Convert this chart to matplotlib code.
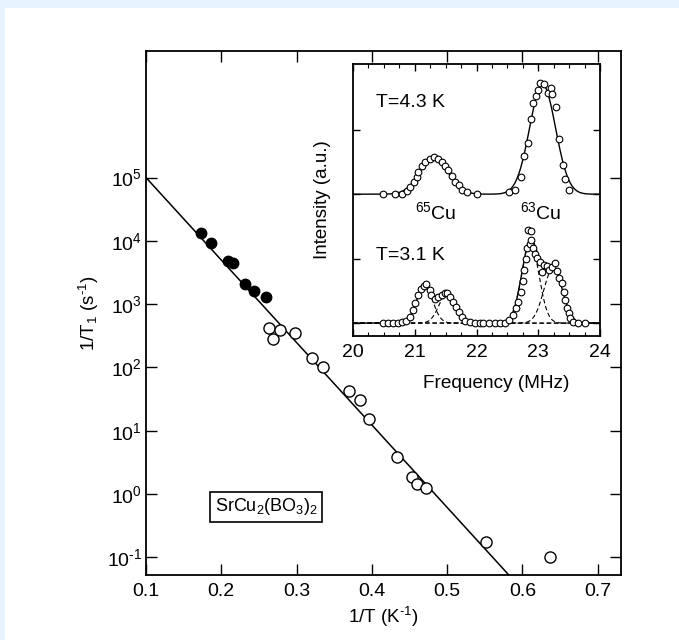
import matplotlib
matplotlib.use("Agg")
import matplotlib.pyplot as plt
from matplotlib.patches import Rectangle
import numpy as np

plt.rcParams['font.family'] = ['Liberation Sans', 'DejaVu Sans']
plt.rcParams['mathtext.fontset'] = 'custom'
plt.rcParams['mathtext.rm'] = 'Liberation Sans'
plt.rcParams['mathtext.it'] = 'Liberation Sans:italic'
plt.rcParams['mathtext.bf'] = 'Liberation Sans:bold'

# main panel: relaxation rate vs inverse temperature
filled_x = [0.173, 0.186, 0.209, 0.216, 0.232, 0.244, 0.259]
filled_y = [1.34e4, 9.4e3, 4.8e3, 4.5e3, 2.1e3, 1.6e3, 1.29e3]
open_x = [0.264, 0.269, 0.278, 0.298, 0.321, 0.335, 0.370, 0.384, 0.396,
          0.434, 0.454, 0.460, 0.472, 0.552, 0.637]
open_y = [424, 277, 384, 348, 139, 101, 42.3, 30.1, 15.2,
          3.83, 1.85, 1.46, 1.26, 0.174, 0.101]
fit_x = [0.1, 0.582]
fit_y = [1.0e5, 0.0525]
xticks_main = [0.1, 0.2, 0.3, 0.4, 0.5, 0.6, 0.7]
yticks_main = [1e-1, 1e0, 1e1, 1e2, 1e3, 1e4, 1e5]
ylabels_main = [r'$10^{\text{-}1}$', r'$10^{0}$', r'$10^{1}$', r'$10^{2}$',
                r'$10^{3}$', r'$10^{4}$', r'$10^{5}$']

# inset: Cu NMR spectra (upper T=4.3 K, lower T=3.1 K), intensity above own baseline
up_f = [20.49, 20.68, 20.79, 20.87, 20.93, 20.98, 21.03, 21.06, 21.11, 21.17,
        21.25, 21.31, 21.38, 21.44, 21.49, 21.54, 21.60, 21.65, 21.71, 21.76,
        21.84, 22.00, 22.52, 22.62, 22.72, 22.77, 22.83, 22.88, 22.92, 22.97,
        23.00, 23.03, 23.09, 23.15, 23.20, 23.23, 23.29, 23.34, 23.40, 23.43,
        23.50]
up_i = [0.0, 0.0, 0.0, 0.05, 0.11, 0.19, 0.27, 0.35, 0.43, 0.50,
        0.54, 0.57, 0.55, 0.50, 0.43, 0.37, 0.28, 0.19, 0.14, 0.07,
        0.03, 0.01, 0.03, 0.07, 0.26, 0.60, 0.80, 1.17, 1.41, 1.53,
        1.62, 1.73, 1.71, 1.57, 1.65, 1.56, 1.35, 0.86, 0.45, 0.23,
        0.06]
lo_f = [20.49, 20.57, 20.65, 20.73, 20.80, 20.86, 20.92, 20.97, 21.00, 21.06,
        21.10, 21.15, 21.19, 21.24, 21.27, 21.33, 21.38, 21.44, 21.49, 21.53,
        21.57, 21.62, 21.67, 21.71, 21.76, 21.81, 21.89, 21.98, 22.05, 22.11,
        22.21, 22.30, 22.38, 22.46, 22.53, 22.59, 22.64, 22.68, 22.72, 22.75,
        22.77, 22.80, 22.82, 22.84, 22.86, 22.88, 22.89, 22.92, 22.95, 22.98,
        23.03, 23.06, 23.09, 23.14, 23.18, 23.22, 23.27, 23.30, 23.34, 23.38,
        23.41, 23.43, 23.46, 23.49, 23.51, 23.57, 23.65, 23.76]
lo_i = [0, 0, 0, 0, 0.02, 0.03, 0.10, 0.20, 0.31, 0.43,
        0.53, 0.58, 0.60, 0.51, 0.43, 0.38, 0.41, 0.44, 0.46, 0.46,
        0.41, 0.33, 0.25, 0.18, 0.10, 0.03, 0.01, 0, 0, 0,
        0, 0, 0, 0, 0.05, 0.13, 0.23, 0.33, 0.49, 0.65,
        0.82, 1.00, 1.16, 1.45, 1.22, 1.29, 1.43, 1.16, 1.07, 1.01,
        0.95, 0.80, 0.90, 0.89, 0.82, 0.87, 0.93, 0.81, 0.70, 0.62,
        0.49, 0.36, 0.24, 0.15, 0.08, 0.02, 0, 0]

# gaussian fit parameters
up_center = [21.31, 23.07]
up_amp = [0.56, 1.70]
up_width = [0.23, 0.21]
lo_center = [21.16, 21.52, 22.87, 23.24]
lo_amp = [0.58, 0.45, 1.25, 0.85]
lo_width = [0.13, 0.13, 0.14, 0.15]
up_offset = 2.0


def gauss(f, c, a, w):
    return a * np.exp(-(f - c) ** 2 / (2 * w ** 2))


fig = plt.figure(figsize=(6.79, 6.40), dpi=100)
fig.patch.set_facecolor('#e6f2fc')
fig.patches.append(Rectangle((5 / 679, 0), 674 / 679, 632 / 640,
                             transform=fig.transFigure, facecolor='white',
                             edgecolor='none', zorder=-10))

ax = fig.add_axes([146 / 679, 1 - 575 / 640, 475 / 679, 524 / 640])
ax.set_yscale('log')
ax.plot(fit_x, fit_y, color='black', lw=1.1, zorder=2)
ax.plot(filled_x, filled_y, 'o', ms=7.5, color='black', zorder=3)
ax.plot(open_x, open_y, 'o', ms=8, mfc='white', mec='black', mew=1.0, zorder=3)
ax.set_xlim(0.1, 0.731)
ax.set_ylim(0.0525, 1e7)
ax.set_xticks(xticks_main)
ax.set_xticklabels([f'{v:.1f}' for v in xticks_main])
ax.set_yticks(yticks_main)
ax.set_yticklabels(ylabels_main)
ax.minorticks_off()
ax.tick_params(direction='in', length=8, width=1, top=True, right=True,
               labelsize=14)
ax.tick_params(axis='x', pad=6)
ax.tick_params(axis='y', pad=3)
for s in ax.spines.values():
    s.set_linewidth(1.3)
ax.set_xlabel(r'1/T (K$^{\text{-}1}$)', fontsize=13.5, labelpad=3)
ax.set_ylabel(r'1/T$_1$ (s$^{\text{-}1}$)', fontsize=13.5, labelpad=4)
ax.text(0.253, 0.13, r'SrCu$_2$(BO$_3$)$_2$', transform=ax.transAxes,
        fontsize=13, ha='center', va='center',
        bbox=dict(boxstyle='square,pad=0.25', fc='white', ec='black', lw=1.2))

# inset
ins = fig.add_axes([353 / 679, 1 - 336 / 640, 247 / 679, 272 / 640])
fgrid = np.linspace(20, 24, 600)
up_total = sum(gauss(fgrid, c, a, w) for c, a, w in zip(up_center, up_amp, up_width))
ins.plot(fgrid, up_total + up_offset, color='black', lw=1.0, zorder=2)
lo_total = np.zeros_like(fgrid)
for c, a, w in zip(lo_center, lo_amp, lo_width):
    comp = gauss(fgrid, c, a, w)
    lo_total = lo_total + comp
    ins.plot(fgrid, comp, color='black', lw=0.8, ls=(0, (4, 2.5)), zorder=2)
ins.plot(fgrid, lo_total, color='black', lw=1.0, zorder=2)
ins.plot(up_f, np.array(up_i) + up_offset, 'o', ms=4.8, mfc='white',
         mec='black', mew=0.8, zorder=3)
ins.plot(lo_f, lo_i, 'o', ms=4.8, mfc='white', mec='black', mew=0.8, zorder=3)
ins.set_xlim(20, 24)
ins.set_ylim(-0.2, 4.02)
ins.set_xticks([20, 21, 22, 23, 24])
ins.set_xticks(np.arange(20, 24.01, 0.25), minor=True)
ins.set_yticks([0, 1, 2, 3])
ins.set_yticklabels([])
ins.tick_params(direction='in', length=5, width=1, top=True, right=True,
                labelsize=14, pad=6)
ins.tick_params(which='minor', direction='in', length=3, width=0.8,
                top=True, bottom=True)
ins.tick_params(axis='y', which='minor', left=False, right=False)
for s in ins.spines.values():
    s.set_linewidth(1.3)
ins.set_xlabel('Frequency (MHz)', fontsize=13.7)
ins.xaxis.set_label_coords(0.58, -0.145)
ins.set_ylabel('Intensity (a.u.)', fontsize=13.5)
ins.yaxis.set_label_coords(-0.09, 0.5)
ins.text(20.38, 3.43, 'T=4.3 K', fontsize=14, ha='left', va='center')
ins.text(20.38, 1.05, 'T=3.1 K', fontsize=14, ha='left', va='center')
ins.text(21.34, 1.72, r'$^{65}$Cu', fontsize=14, ha='center', va='center')
ins.text(23.04, 1.72, r'$^{63}$Cu', fontsize=14, ha='center', va='center')

fig.savefig('out.png', dpi=100)
